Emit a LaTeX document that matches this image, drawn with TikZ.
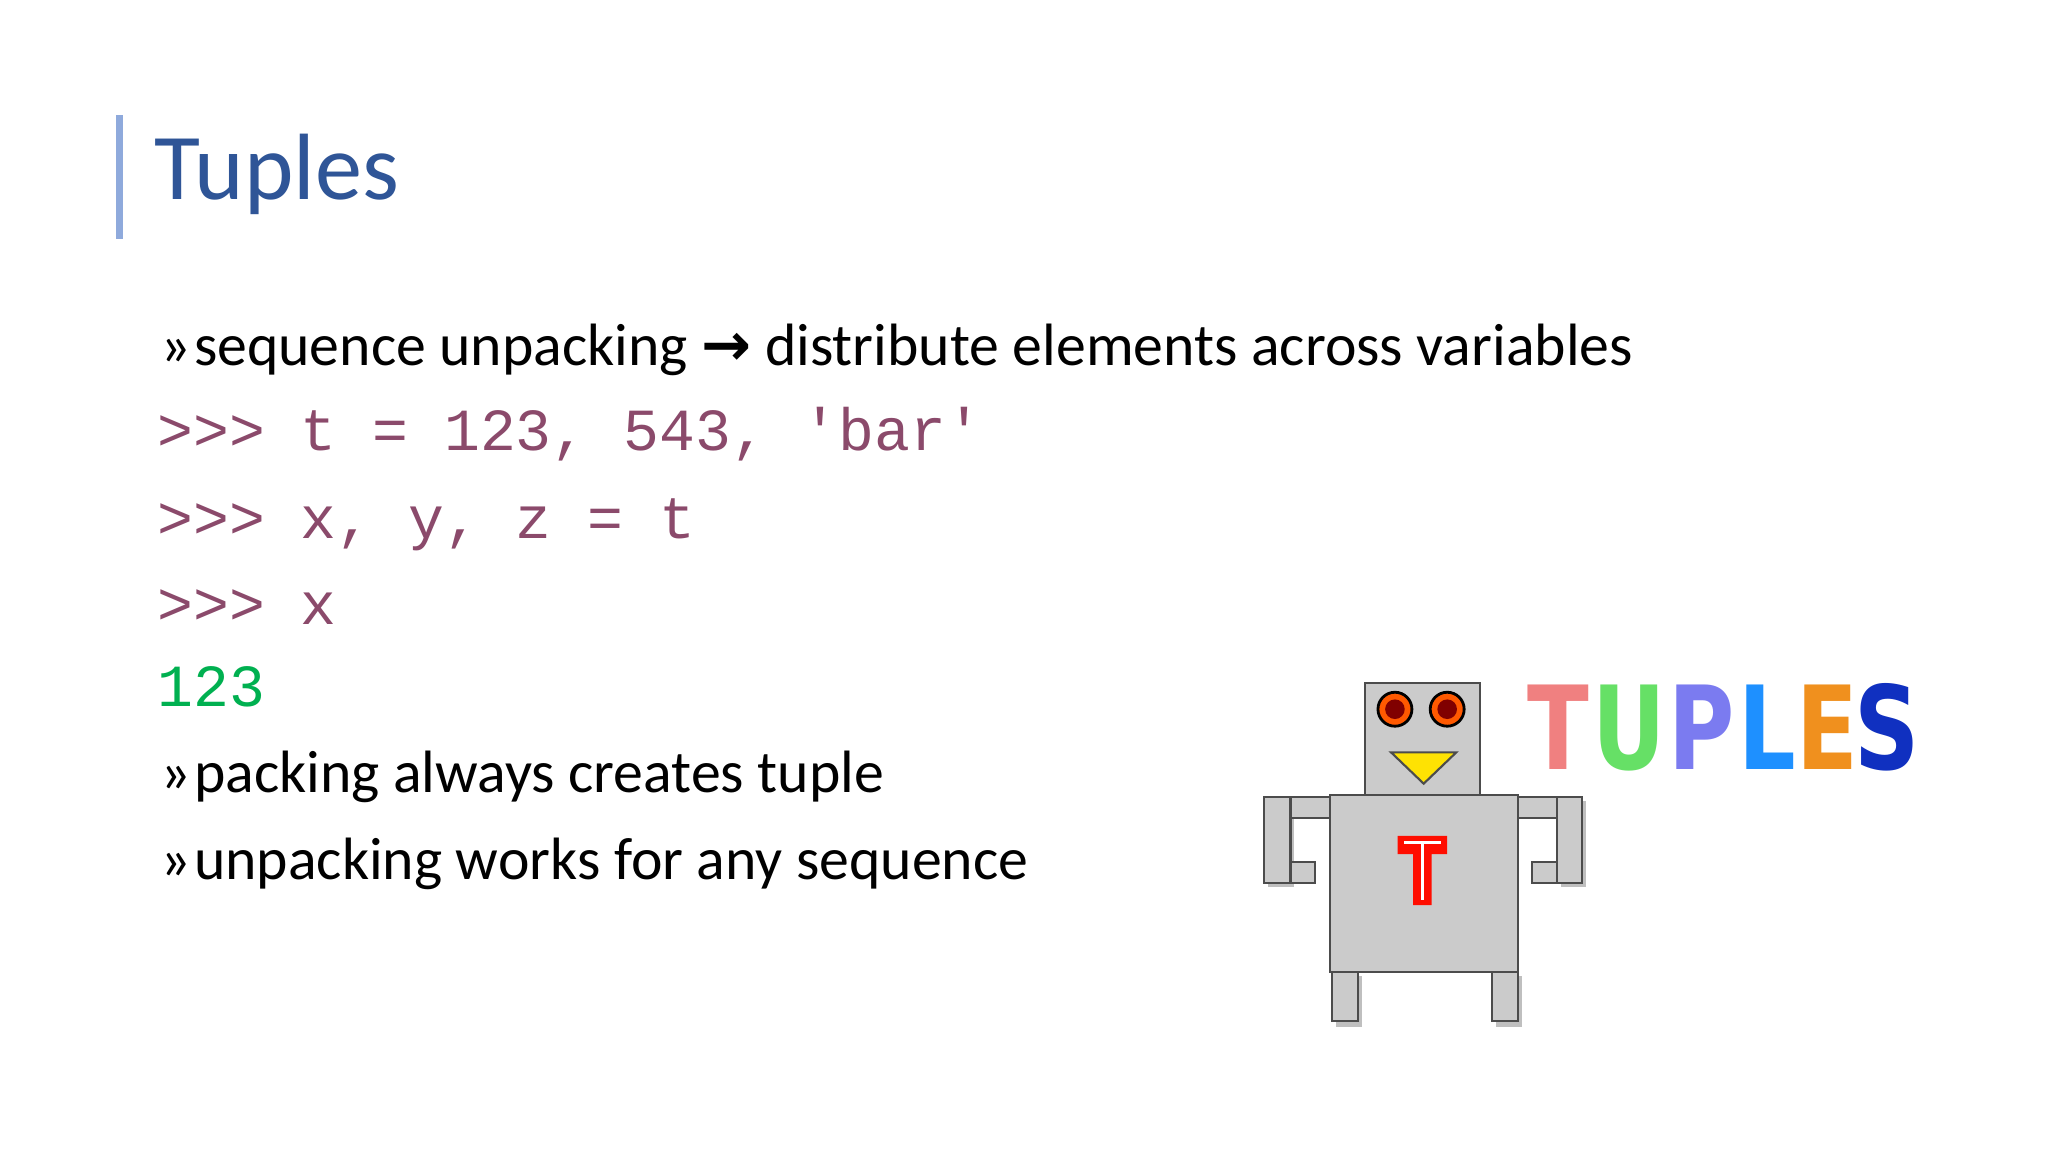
\documentclass[tikz,border=0pt]{standalone}
\usepackage{fontspec}
\setmainfont{Carlito}
\newfontfamily\codefont{Liberation Mono}
\newfontfamily\dvs{DejaVu Sans}
\newfontfamily\bigsans{DejaVu Sans}
\definecolor{titleblue}{HTML}{2F5597}
\definecolor{barblue}{HTML}{8FAADC}
\definecolor{codepurple}{HTML}{8B4A6B}
\definecolor{codegreen}{HTML}{00B050}
\definecolor{robgray}{HTML}{CBCBCB}
\definecolor{cT}{HTML}{F08080}
\definecolor{cU}{HTML}{66E066}
\definecolor{cP}{HTML}{7B7BF0}
\definecolor{cL}{HTML}{1E90FF}
\definecolor{cE}{HTML}{F0901E}
\definecolor{cS}{HTML}{1030C0}
\tikzset{
 txt/.style={anchor=base west,inner sep=0pt,font=\fontsize{17}{20}\selectfont},
 code/.style={anchor=base west,inner sep=0pt,font=\codefont\fontsize{17}{20}\selectfont,text=codepurple},
 part/.style={draw=black!70,line width=0.6pt,fill=robgray},
 letter/.style={anchor=base,inner sep=0pt,xscale=0.78,font=\bigsans\bfseries\fontsize{33}{36}\selectfont}
}
\begin{document}
\begin{tikzpicture}[x=0.013061cm,y=-0.013061cm]
\useasboundingbox (0,0) rectangle (1568,882);
\fill[white] (0,0) rectangle (1568,882);
% title
\fill[barblue] (89,88) rectangle (94,183);
\node[anchor=base west,inner sep=0pt,text=titleblue,font=\fontsize{26.8}{32}\selectfont] (title) at (118,153) {Tuples};
% bullets
\node[txt] (b1) at (122,280) {»\hspace{1pt}sequence unpacking {\dvs\bfseries →} distribute elements across variables};
\node[code] (c1) at (120,345) {>>> t = 123, 543, 'bar'};
\node[code] (c2) at (120,412) {>>> x, y, z = t};
\node[code] (c3) at (120,478) {>>> x};
\node[code,text=codegreen] (c4) at (120,541) {123};
\node[txt] (b2) at (122,607) {»\hspace{1pt}packing always creates tuple};
\node[txt] (b3) at (122,673) {»\hspace{1pt}unpacking works for any sequence};
% robot shadows
\begin{scope}[black!25]
\fill (1023,747) rectangle (1043,786);
\fill (1145,747) rectangle (1165,786);
\fill (971,613) rectangle (991,679);
\fill (1195,613) rectangle (1214,679);
\end{scope}
% robot
\draw[part] (1020,744) rectangle (1040,782);
\draw[part] (1142,744) rectangle (1162,782);
\draw[part] (968,610) rectangle (988,676);
\draw[part] (988,610) rectangle (1018,626);
\draw[part] (988,660) rectangle (1007,676);
\draw[part] (1192,610) rectangle (1211,676);
\draw[part] (1162,610) rectangle (1192,626);
\draw[part] (1173,660) rectangle (1192,676);
\draw[part] (1018,609) rectangle (1162,744);
\draw[part] (1045,523) rectangle (1133,609);
\foreach \cx in {1068,1108}{
 \draw[fill=orange!70!red,line width=0.8pt] (\cx,543) circle[radius=13];
 \fill[red!50!black] (\cx,543) circle[radius=7.5];
}
\draw[fill=yellow!85!orange,draw=black!70,line width=0.6pt] (1065,576) -- (1115,576) -- (1090,600) -- cycle;
\fill[red!90!orange] (1070,640) rectangle (1108,654) (1082,654) rectangle (1096,693);
\draw[white,line width=0.8pt] (1075,645) -- (1103,645) (1089,645) -- (1089,689);
% TUPLES
\node[letter,text=cT] (lT) at (1193,589) {T};
\node[letter,text=cU] (lU) at (1247,589) {U};
\node[letter,text=cP] (lP) at (1303,589) {P};
\node[letter,text=cL] (lL) at (1353,589) {L};
\node[letter,text=cE] (lE) at (1399,589) {E};
\node[letter,text=cS] (lS) at (1445,589) {S};
\end{tikzpicture}
\end{document}
